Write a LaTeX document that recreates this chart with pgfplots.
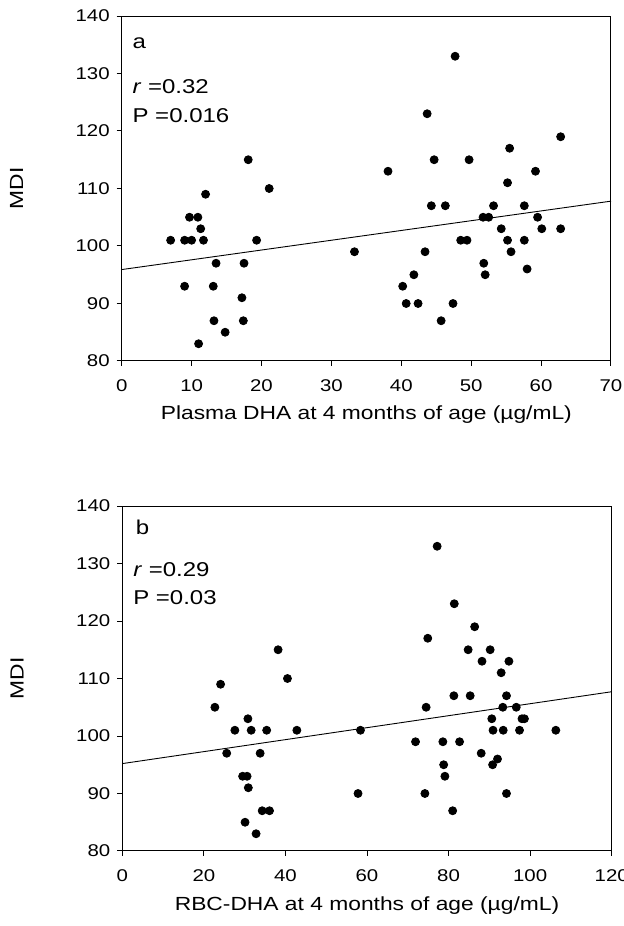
\documentclass[border=0pt]{standalone}
\usepackage{pgfplots}
\pgfplotsset{compat=1.18}
\usepackage{fontspec}
\setmainfont{Liberation Sans}[FakeStretch=1.2]
\begin{document}
\begin{tikzpicture}
\useasboundingbox (0,0) rectangle (312pt,463pt);
\pgfplotsset{
  myax/.style={
    scale only axis,
    height=172.5pt,
    ymin=80, ymax=140,
    ytick={80,90,...,140},
    tick pos=left,
    tick align=outside,
    major tick length=2.5pt,
    axis line style={line width=0.5pt},
    tick style={black, line width=0.5pt},
    /pgf/number format/assume math mode=true,
    tick label style={font=\fontsize{8.5}{10}\selectfont},
    xticklabel style={yshift=-3.5pt},
    label style={font=\fontsize{9.5}{11}\selectfont},
    xlabel style={at={(axis description cs:0.5,0)}, anchor=base, yshift=-29.5pt},
    ylabel style={at={(axis description cs:-0.215,0.5)}, anchor=center},
    ylabel={MDI},
    clip=false,
  },
}
% ---------- panel a ----------
\begin{axis}[myax,
  at={(60.85pt,282.5pt)}, anchor=south west,
  width=244.65pt,
  xmin=0, xmax=70, xtick={0,10,...,70},
  xlabel={Plasma DHA at 4 months of age (µg/mL)},
]
\addplot[only marks, mark=*, mark size=2pt, black] coordinates {
(7,101)(9,101)(10,101)(11.7,101)(9.7,105)(10.9,105)(11.3,103)(12,109)
(13.5,97)(17.5,97)(9,93)(13.1,93)(17.2,91)(13.2,87)(14.8,85)(17.4,87)
(11,83)(18.1,115)(21.1,110)(19.3,101)(33.3,99)
(47.7,133)(43.7,123)(62.8,119)(55.5,117)(44.7,115)(49.7,115)(38.1,113)
(59.2,113)(55.2,111)(44.3,107)(46.3,107)(53.2,107)(57.6,107)(51.7,105)
(52.5,105)(59.5,105)(54.3,103)(60.1,103)(62.8,103)(48.5,101)(49.4,101)
(55.2,101)(57.6,101)(43.4,99)(55.7,99)(51.8,97)(58,96)(41.8,95)(52,95)
(40.2,93)(40.7,90)(42.4,90)(47.4,90)(45.7,87)
};
\addplot[black, line width=0.45pt] coordinates {(0,95.9)(70,107.8)};
\node[anchor=base west, font=\fontsize{10}{12}\selectfont, inner sep=0pt] at (axis cs:1.5,134.4) {a};
\node[anchor=base west, font=\fontsize{10}{12}\selectfont, inner sep=0pt] at (axis cs:1.5,126.6) {\textit{r} =0.32};
\node[anchor=base west, font=\fontsize{10}{12}\selectfont, inner sep=0pt] at (axis cs:1.5,121.5) {P =0.016};
\end{axis}
% ---------- panel b ----------
\begin{axis}[myax,
  at={(61.15pt,37.5pt)}, anchor=south west,
  width=244.7pt,
  xmin=0, xmax=120, xtick={0,20,...,120},
  xlabel={RBC-DHA at 4 months of age (µg/mL)},
]
\addplot[only marks, mark=*, mark size=2pt, black] coordinates {
(22.7,105)(24.1,109)(38.2,115)(40.5,110)(30.8,103)(27.6,101)(31.6,101)
(35.4,101)(42.8,101)(25.6,97)(33.8,97)(29.5,93)(30.6,93)(30.9,91)
(34.3,87)(36.1,87)(30.1,85)(32.8,83)(58.4,101)(57.8,90)
(77.2,133)(81.4,123)(86.4,119)(74.9,117)(84.8,115)(90.2,115)(88.2,113)
(94.8,113)(92.9,111)(81.3,107)(85.3,107)(94.2,107)(74.5,105)(93.3,105)
(96.6,105)(90.6,103)(98,103)(98.6,103)(90.9,101)(93.4,101)(97.4,101)
(106.3,101)(71.9,99)(78.6,99)(82.7,99)(88,97)(92,96)(90.8,95)(78.8,95)
(79.1,93)(74.2,90)(94.2,90)(81,87)
};
\addplot[black, line width=0.45pt] coordinates {(0,95.2)(120,107.7)};
\node[anchor=base west, font=\fontsize{10}{12}\selectfont, inner sep=0pt] at (axis cs:3.2,135) {b};
\node[anchor=base west, font=\fontsize{10}{12}\selectfont, inner sep=0pt] at (axis cs:2.6,127.8) {\textit{r} =0.29};
\node[anchor=base west, font=\fontsize{10}{12}\selectfont, inner sep=0pt] at (axis cs:2.6,122.8) {P =0.03};
\end{axis}
\end{tikzpicture}
\end{document}
